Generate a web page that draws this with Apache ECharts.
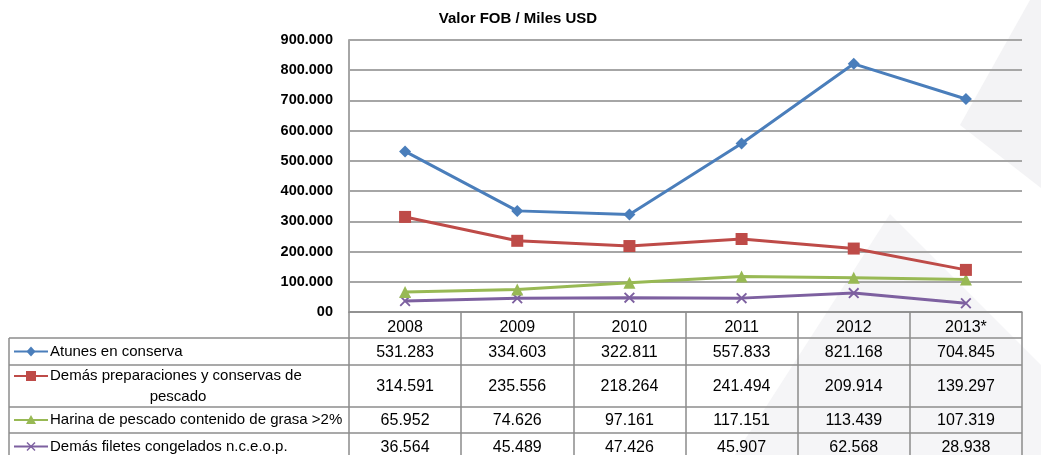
<!DOCTYPE html>
<html>
<head>
<meta charset="utf-8">
<script src="https://cdn.jsdelivr.net/npm/echarts@6/dist/echarts.min.js"></script>
<style>
html,body{margin:0;padding:0;background:#fff;}
#c{width:1041px;height:455px;}
</style>
</head>
<body>
<div id="c"></div>
<script>
const title = 'Valor FOB / Miles USD';
const years = ['2008','2009','2010','2011','2012','2013*'];
const yTickLabels = ['00','100.000','200.000','300.000','400.000','500.000','600.000','700.000','800.000','900.000'];
const seriesNames = ['Atunes en conserva','Demás preparaciones y conservas de pescado','Harina de pescado contenido de grasa >2%','Demás filetes congelados n.c.e.o.p.'];
const atunes = [531283, 334603, 322811, 557833, 821168, 704845];
const preparaciones = [314591, 235556, 218264, 241494, 209914, 139297];
const harina = [65952, 74626, 97161, 117151, 113439, 107319];
const filetes = [36564, 45489, 47426, 45907, 62568, 28938];

const colors = ['#4A7EBB','#BE4B48','#98B954','#7D60A0'];
const FONT = '"Liberation Sans", Arial, sans-serif';
const GRID = '#a6a6a6';
const BORDER = '#8c8c8c';
const xPath = 'path://M0,1.2L1.2,0L5,3.8L8.8,0L10,1.2L6.2,5L10,8.8L8.8,10L5,6.2L1.2,10L0,8.8L3.8,5Z';

function fmt(v){
  return String(Math.round(v)).replace(/\B(?=(\d{3})+(?!\d))/g, '.');
}

const chart = echarts.init(document.getElementById('c'));
const data = [atunes, preparaciones, harina, filetes];
const symbols = ['diamond','rect','triangle',xPath];
const symSizes = [12,12,12,11];

chart.setOption({
  animation:false,
  backgroundColor:'#fff',
  title:{text:title,left:513,top:6,textAlign:'center',
    textStyle:{fontFamily:FONT,fontSize:15,fontWeight:'bold',color:'#000'}},
  grid:{left:349,right:19,top:40,bottom:143,containLabel:false},
  xAxis:{type:'category',data:years,boundaryGap:true,
    axisLine:{show:true,lineStyle:{color:BORDER,width:1.5}},
    axisTick:{show:true,length:150,interval:0,lineStyle:{color:BORDER,width:1.5}},
    axisLabel:{show:true,interval:0,margin:8,fontFamily:FONT,fontSize:16,color:'#000'},
    splitLine:{show:false}},
  yAxis:{type:'value',min:0,max:900000,interval:100000,
    axisLine:{show:true,lineStyle:{color:GRID,width:2}},
    axisTick:{show:false},
    axisLabel:{margin:16,fontFamily:FONT,fontSize:14.5,fontWeight:'bold',color:'#000',
      formatter:function(v){return yTickLabels[Math.round(v/100000)];}},
    splitLine:{show:true,lineStyle:{color:GRID,width:2}}},
  series:data.map(function(d,i){
    return {name:seriesNames[i],type:'line',data:d,
      symbol:symbols[i],symbolSize:symSizes[i],showAllSymbol:true,
      lineStyle:{color:colors[i],width:3},
      itemStyle:{color:colors[i]},
      z:10-i};
  })
});

// table built from the chart's axis positions
const rowTops = [338,365,407,433,460];
const colCenters = years.map(function(_,i){return chart.convertToPixel({xAxisIndex:0}, i);});
const tableLeft = 9, tableRight = 1022;
const g = [];
// watermark shapes
g.push({type:'polygon',z:-5,silent:true,shape:{points:[[1030,0],[1041,0],[1041,188],[960,125]]},style:{fill:'#f3f3f5'}});
g.push({type:'polygon',z:-5,silent:true,shape:{points:[[890,214],[1041,365],[1041,455],[735,455]]},style:{fill:'#f5f5f7'}});
// horizontal row lines
rowTops.slice(0,4).forEach(function(y){
  g.push({type:'line',z:20,shape:{x1:tableLeft,y1:y,x2:tableRight,y2:y},style:{stroke:BORDER,lineWidth:1.5}});
});
g.push({type:'line',z:20,shape:{x1:tableLeft,y1:rowTops[0],x2:tableLeft,y2:455},style:{stroke:BORDER,lineWidth:1.5}});
// values
data.forEach(function(d,r){
  const cy = (rowTops[r]+rowTops[r+1])/2;
  d.forEach(function(v,c){
    g.push({type:'text',z:20,x:colCenters[c],y:cy+1,style:{text:fmt(v),fill:'#000',fontFamily:FONT,fontSize:16,align:'center',verticalAlign:'middle'}});
  });
  // legend key
  const ky = (r===1) ? rowTops[r]+11 : cy;
  g.push({type:'line',z:20,shape:{x1:14,y1:ky,x2:48,y2:ky},style:{stroke:colors[r],lineWidth:2}});
  const kx = 31;
  if(r===0){
    g.push({type:'polygon',z:21,shape:{points:[[kx,ky-5],[kx+4.5,ky],[kx,ky+5],[kx-4.5,ky]]},style:{fill:colors[r]}});
  } else if(r===1){
    g.push({type:'rect',z:21,shape:{x:kx-5,y:ky-5,width:10,height:10},style:{fill:colors[r]}});
  } else if(r===2){
    g.push({type:'polygon',z:21,shape:{points:[[kx,ky-5],[kx+5,ky+4],[kx-5,ky+4]]},style:{fill:colors[r]}});
  } else {
    g.push({type:'line',z:21,shape:{x1:kx-4,y1:ky-4,x2:kx+4,y2:ky+4},style:{stroke:colors[r],lineWidth:1.5}});
    g.push({type:'line',z:21,shape:{x1:kx-4,y1:ky+4,x2:kx+4,y2:ky-4},style:{stroke:colors[r],lineWidth:1.5}});
  }
  if(r===1){
    g.push({type:'text',z:20,x:50,y:ky,style:{text:'Demás preparaciones y conservas de',fill:'#000',fontFamily:FONT,fontSize:15,align:'left',verticalAlign:'middle'}});
    g.push({type:'text',z:20,x:178,y:ky+21,style:{text:'pescado',fill:'#000',fontFamily:FONT,fontSize:15,align:'center',verticalAlign:'middle'}});
  } else {
    g.push({type:'text',z:20,x:50,y:cy,style:{text:seriesNames[r],fill:'#000',fontFamily:FONT,fontSize:15,align:'left',verticalAlign:'middle'}});
  }
});
chart.setOption({graphic:g});
</script>
</body>
</html>
